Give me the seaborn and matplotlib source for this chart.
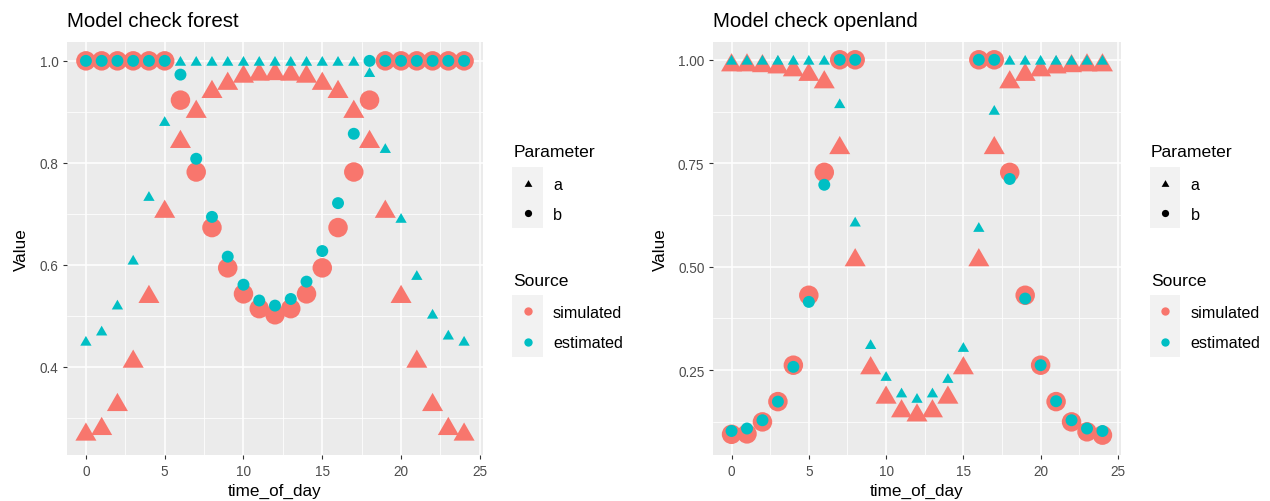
import numpy as np
import pandas as pd
import matplotlib
matplotlib.use("Agg")
import matplotlib.pyplot as plt
from matplotlib.lines import Line2D
from matplotlib.patches import Rectangle
import seaborn as sns

# ---------------- data ----------------
hours = list(range(25))
nan = np.nan

forest_sim_a = [0.273, 0.284, 0.331, 0.416, 0.543, 0.710, 0.847, 0.906, 0.945, 0.961, 0.975, 0.979, 0.980,
                0.979, 0.975, 0.961, 0.945, 0.906, 0.847, 0.710, 0.543, 0.416, 0.331, 0.284, 0.273]
forest_est_a = [0.451, 0.471, 0.522, 0.610, 0.735, 0.882, 1, 1, 1, 1, 1, 1, 1,
                1, 1, 1, 1, 1, 0.978, 0.829, 0.692, 0.580, 0.504, 0.463, 0.451]
forest_sim_b = [1, 1, 1, 1, 1, 1, 0.923, 0.782, 0.673, 0.594, 0.543, 0.514, 0.502,
                0.514, 0.543, 0.594, 0.673, 0.782, 0.923, 1, 1, 1, 1, 1, 1]
forest_est_b = [1, 1, 1, 1, 1, 1, 0.973, 0.808, 0.694, 0.616, 0.561, 0.530, 0.520,
                0.533, 0.567, 0.627, 0.721, 0.857, 1, 1, 1, 1, 1, 1, 1]

open_sim_a = [0.994, 0.994, 0.992, 0.989, 0.982, 0.971, 0.953, 0.794, 0.523, 0.262, 0.191, 0.158, 0.148,
              0.158, 0.191, 0.262, 0.523, 0.794, 0.953, 0.971, 0.982, 0.989, 0.992, 0.994, 0.994]
open_est_a = [1, 1, 1, 1, 1, 1, 1, 0.895, 0.609, 0.313, 0.236, 0.196, 0.183,
              0.196, 0.231, 0.306, 0.596, 0.879, 1, 1, 1, 1, 1, 1, 1]
open_sim_b = [0.095, 0.096, 0.125, 0.174, 0.262, 0.431, 0.728, 1, 1, nan, nan, nan, nan,
              nan, nan, nan, 1, 1, 0.728, 0.431, 0.262, 0.174, 0.125, 0.101, 0.093]
open_est_b = [0.103, 0.109, 0.129, 0.174, 0.258, 0.415, 0.698, 1, 1, nan, nan, nan, nan,
              nan, nan, nan, 1, 1, 0.712, 0.423, 0.262, 0.175, 0.129, 0.109, 0.103]

sources = ["simulated", "estimated"]
parameters = ["a", "b"]
titles = ["Model check forest", "Model check openland"]
x_ticks = [0, 5, 10, 15, 20, 25]
y_ticks_forest = [0.4, 0.6, 0.8, 1.0]
y_tick_labels_forest = ["0.4", "0.6", "0.8", "1.0"]
y_ticks_open = [0.25, 0.50, 0.75, 1.00]
y_tick_labels_open = ["0.25", "0.50", "0.75", "1.00"]


def long_frame(sim_a, est_a, sim_b, est_b):
    rows = []
    for src, par, vals in [("simulated", "a", sim_a), ("simulated", "b", sim_b),
                           ("estimated", "a", est_a), ("estimated", "b", est_b)]:
        for h, v in zip(hours, vals):
            rows.append({"time_of_day": h, "Value": v, "Source": src, "Parameter": par})
    return pd.DataFrame(rows).dropna()


df_forest = long_frame(forest_sim_a, forest_est_a, forest_sim_b, forest_est_b)
df_open = long_frame(open_sim_a, open_est_a, open_sim_b, open_est_b)

# ---------------- style ----------------
sns.set_theme(style="darkgrid")
plt.rcParams["font.family"] = ["Liberation Sans", "DejaVu Sans"]

W, H = 1270, 502
fig = plt.figure(figsize=(W / 100, H / 100), dpi=100)

colors = {"simulated": "#F8766D", "estimated": "#00BFC4"}
tri = [(0, 0.5), (-0.57735, -0.5), (0.57735, -0.5), (0, 0.5)]
markers = {"a": tri, "b": "o"}
sizes = {("simulated", "a"): 229, ("simulated", "b"): 197,
         ("estimated", "a"): 66, ("estimated", "b"): 74}


def px_axes(x0, y0, x1, y1):
    return fig.add_axes([x0 / W, 1 - y1 / H, (x1 - x0) / W, (y1 - y0) / H])


panels = [
    (df_forest, titles[0], (67, 43, 483, 456), (0.227, 1.037), y_ticks_forest, y_tick_labels_forest,
     [0.3, 0.5, 0.7, 0.9]),
    (df_open, titles[1], (713, 43, 1121, 456), (0.045, 1.043), y_ticks_open, y_tick_labels_open,
     [0.125, 0.375, 0.625, 0.875]),
]

for df, title, box, ylim, yt, ytl, yminor in panels:
    ax = px_axes(*box)
    ax.set_facecolor("#EBEBEB")
    for src in sources:
        for par in parameters:
            sub = df[(df["Source"] == src) & (df["Parameter"] == par)]
            sns.scatterplot(data=sub, x="time_of_day", y="Value", ax=ax,
                            color=colors[src], marker=markers[par], s=sizes[(src, par)],
                            linewidth=0, edgecolor="none", legend=False, zorder=3)
    ax.set_xlim(-1.2, 25.2)
    ax.set_ylim(*ylim)
    ax.set_xticks(x_ticks)
    ax.set_xticklabels([str(t) for t in x_ticks])
    ax.set_yticks(yt)
    ax.set_yticklabels(ytl)
    ax.set_xticks([2.5, 7.5, 12.5, 17.5, 22.5], minor=True)
    ax.set_yticks(yminor, minor=True)
    ax.grid(which="major", color="white", linewidth=1.1)
    ax.grid(which="minor", color="white", linewidth=0.55)
    ax.set_axisbelow(True)
    for s in ax.spines.values():
        s.set_visible(False)
    ax.tick_params(which="major", length=3, width=0.8, color="#333333", labelcolor="#4D4D4D",
                   labelsize=9.8, pad=3.2, left=True, bottom=True)
    ax.tick_params(which="minor", length=0, left=False, bottom=False)
    ax.set_xlabel("time_of_day", fontsize=12.3, color="black", labelpad=3.8)
    ax.set_ylabel("Value", fontsize=12.3, color="black", labelpad=7.5)
    ax.set_title(title, loc="left", fontsize=14.8, color="black", pad=11.5)


# ---------------- legends ----------------
def fx(x):
    return x / W


def fy(y):
    return 1 - y / H


def draw_legend(dx):
    kx0, kx1 = 512.3 + dx, 542.7 + dx
    kc = (kx0 + kx1) / 2
    tx = 553.0 + dx
    # Parameter
    fig.text(fx(513.3 + dx), fy(156.7), "Parameter", fontsize=12.6, color="black",
             ha="left", va="baseline")
    fig.add_artist(Rectangle((fx(kx0), fy(229.3)), fx(kx1) - fx(kx0), fy(168.3) - fy(229.3),
                             transform=fig.transFigure, facecolor="#F2F2F2", edgecolor="none"))
    for yc, m, lab in [(183.5, tri, "a"), (214.0, "o", "b")]:
        ms = 5.2 if m == "o" else 5.6
        fig.add_artist(Line2D([fx(kc)], [fy(yc)], transform=fig.transFigure, marker=m,
                              markersize=ms, color="black", markeredgewidth=0, linestyle="none"))
        fig.text(fx(tx), fy(yc), lab, fontsize=11.6, color="black", ha="left", va="center_baseline")
    # Source
    fig.text(fx(513.3 + dx), fy(286.0), "Source", fontsize=12.6, color="black",
             ha="left", va="baseline")
    fig.add_artist(Rectangle((fx(kx0), fy(358.3)), fx(kx1) - fx(kx0), fy(296.0) - fy(358.3),
                             transform=fig.transFigure, facecolor="#F2F2F2", edgecolor="none"))
    for yc, src in [(311.5, "simulated"), (342.5, "estimated")]:
        fig.add_artist(Line2D([fx(kc)], [fy(yc)], transform=fig.transFigure, marker="o",
                              markersize=6.0, color=colors[src], markeredgewidth=0, linestyle="none"))
        fig.text(fx(tx), fy(yc), src, fontsize=11.6, color="black", ha="left", va="center_baseline")


draw_legend(0)
draw_legend(637.7)

fig.savefig("out.png", dpi=100, facecolor="white")
